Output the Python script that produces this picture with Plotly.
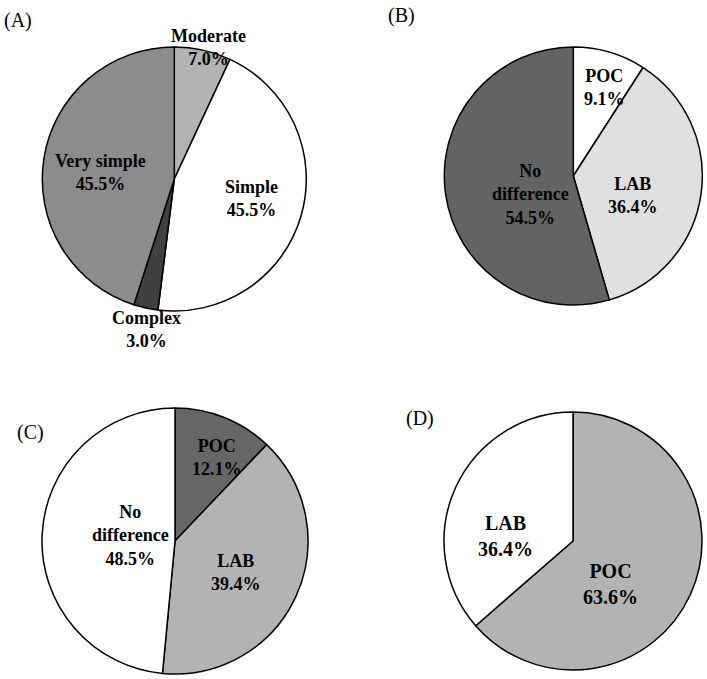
import plotly.graph_objects as go

# Panel A
a_labels = ["Moderate", "Simple", "Complex", "Very simple"]
a_values = [7.0, 45.5, 3.0, 45.5]
a_colors = ["#b3b3b3", "#ffffff", "#404040", "#8c8c8c"]

# Panel B
b_labels = ["POC", "LAB", "No<br>difference"]
b_values = [9.1, 36.4, 54.5]
b_colors = ["#ffffff", "#e0e0e0", "#636363"]

# Panel C
c_labels = ["POC", "LAB", "No<br>difference"]
c_values = [12.1, 39.4, 48.5]
c_colors = ["#666666", "#b3b3b3", "#ffffff"]

# Panel D
d_labels = ["POC", "LAB"]
d_values = [63.6, 36.4]
d_colors = ["#b3b3b3", "#ffffff"]

panel_titles = ["(A)", "(B)", "(C)", "(D)"]

W, H = 707, 679
FONT = "Liberation Serif"

# layout: pie centre / radius in pixels, label block centres, font sizes
pie_geom = [(174.3, 179, 132), (573.3, 176, 129), (175, 541, 133), (573, 541, 129)]
label_pos = [
    [(208, 47.5), (251, 198), (146, 329), (100, 172)],
    [(604, 88), (633, 196), (530, 195)],
    [(217, 457), (235.7, 572.5), (130.5, 535)],
    [(610, 583.5), (506, 535.5)],
]
label_size = [18, 18, 18, 20]
title_pos = [(18, 20), (401, 15), (30, 432), (419.5, 418)]


def dom(cx, cy, r):
    return dict(x=[(cx - r) / W, (cx + r) / W], y=[1 - (cy + r) / H, 1 - (cy - r) / H])


def make_pie(labels, values, colors, domain):
    return go.Pie(
        labels=[l.replace("<br>", " ") for l in labels],
        values=values,
        textinfo="none",
        marker=dict(colors=colors, line=dict(color="#000000", width=1.5)),
        sort=False,
        direction="clockwise",
        rotation=0,
        domain=domain,
        showlegend=False,
        hoverinfo="label+percent",
    )


fig = go.Figure()
panels = [
    (a_labels, a_values, a_colors),
    (b_labels, b_values, b_colors),
    (c_labels, c_values, c_colors),
    (d_labels, d_values, d_colors),
]
for (labels, values, colors), geom, lpos, fs in zip(panels, pie_geom, label_pos, label_size):
    fig.add_trace(make_pie(labels, values, colors, dom(*geom)))
    for l, v, (x, y) in zip(labels, values, lpos):
        fig.add_annotation(
            text=f"<b>{l}<br>{v:.1f}%</b>", x=x / W, y=1 - y / H,
            xref="paper", yref="paper", xanchor="center", yanchor="middle",
            showarrow=False, align="center",
            font=dict(family=FONT, size=fs, color="#000000"),
        )

for t, (x, y) in zip(panel_titles, title_pos):
    fig.add_annotation(
        text=t, x=x / W, y=1 - y / H, xref="paper", yref="paper",
        xanchor="center", yanchor="middle", showarrow=False,
        font=dict(family=FONT, size=20, color="#000000"),
    )

fig.update_layout(
    width=W, height=H,
    margin=dict(l=0, r=0, t=0, b=0),
    paper_bgcolor="#ffffff",
    plot_bgcolor="#ffffff",
)

fig.write_html("out.html")
